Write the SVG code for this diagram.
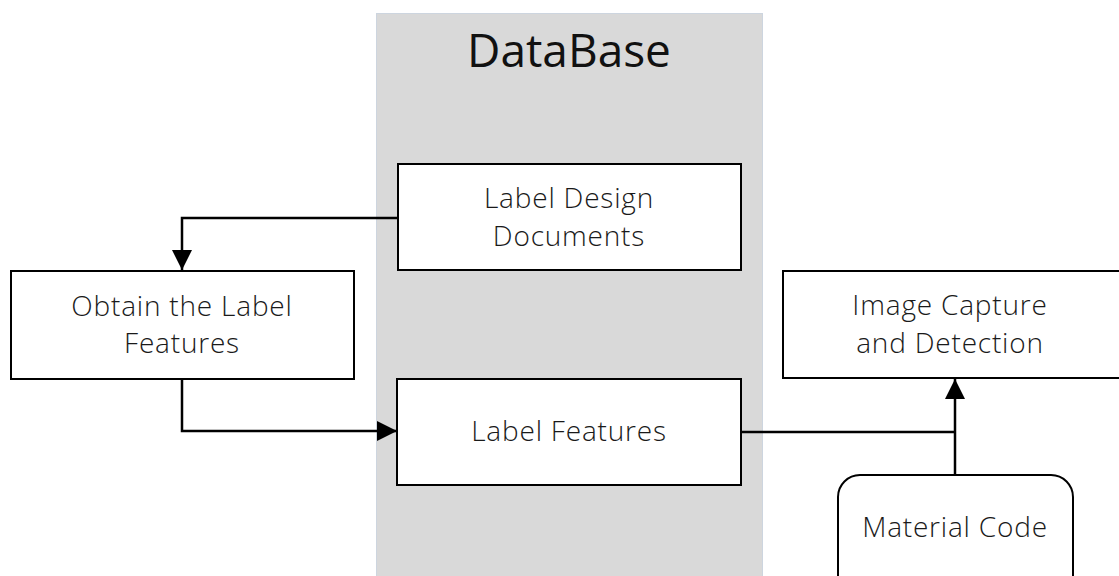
<svg xmlns="http://www.w3.org/2000/svg" width="1119" height="576" viewBox="0 0 1119 576">
  <style>
    .box { fill: #ffffff; stroke: #000000; stroke-width: 2; }
    .lbl { font-family: "Open Sans", "Noto Sans", "Liberation Sans", sans-serif; font-weight: 300; font-size: 28px; letter-spacing: 0.8px; fill: #1a1a1a; text-anchor: middle; }
    .title { font-family: "Open Sans", "Noto Sans", "Liberation Sans", sans-serif; font-size: 46px; fill: #111111; text-anchor: middle; }
    .wire { fill: none; stroke: #000000; stroke-width: 2.5; }
  </style>
  <defs>
    <marker id="head" viewBox="0 0 20 20" refX="20" refY="10" markerWidth="20" markerHeight="20" markerUnits="userSpaceOnUse" orient="auto">
      <path d="M0,0 L20,10 L0,20 z" fill="#000000"/>
    </marker>
  </defs>
  <rect width="1119" height="576" fill="#ffffff"/>

  <!-- database column -->
  <g id="database">
    <rect x="376.5" y="13.5" width="386" height="570" fill="#d9d9d9" stroke="#cdd5df" stroke-width="1"/>
    <text class="title" x="569" y="67">DataBase</text>
  </g>

  <!-- connectors -->
  <g id="connectors">
    <path class="wire" d="M398,218 H182 V270" marker-end="url(#head)"/>
    <path class="wire" d="M182,379 V431 H397" marker-end="url(#head)"/>
    <path class="wire" d="M741,432 H955"/>
    <path class="wire" d="M955,475 V379" marker-end="url(#head)"/>
  </g>

  <g id="label-design">
    <rect class="box" x="398" y="164" width="343" height="106"/>
    <text class="lbl" x="569" y="208">Label Design</text>
    <text class="lbl" x="569" y="246">Documents</text>
  </g>

  <g id="obtain-features">
    <rect class="box" x="11" y="271" width="343" height="108"/>
    <text class="lbl" x="182" y="316">Obtain the Label</text>
    <text class="lbl" x="182" y="353">Features</text>
  </g>

  <g id="label-features">
    <rect class="box" x="397" y="379" width="344" height="106"/>
    <text class="lbl" x="569" y="441">Label Features</text>
  </g>

  <g id="image-capture">
    <rect class="box" x="783" y="271" width="345" height="107"/>
    <text class="lbl" x="950" y="315">Image Capture</text>
    <text class="lbl" x="950" y="353">and Detection</text>
  </g>

  <g id="material-code">
    <rect class="box" x="838" y="475" width="235" height="130" rx="22" ry="22"/>
    <text class="lbl" x="955" y="537">Material Code</text>
  </g>
</svg>
